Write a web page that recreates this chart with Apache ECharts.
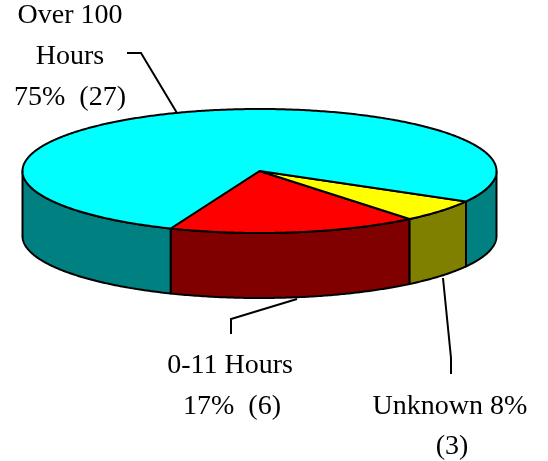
<!DOCTYPE html>
<html>
<head>
<meta charset="utf-8">
<style>html,body{margin:0;padding:0;background:#fff}#main{width:548px;height:461px}</style>
<script src="https://cdn.jsdelivr.net/npm/echarts@6/dist/echarts.min.js"></script>
</head>
<body>
<div id="main"></div>
<script>
// data, counter-clockwise from the left edge of the red slice
var categories = ['0-11 Hours', 'Unknown', 'Over 100 Hours'];
var values = [6, 3, 27];
var topColors = ['#ff0000', '#ffff00', '#00ffff'];
var sideColors = ['#800000', '#808000', '#008080'];

var labelLines = [
    ['0-11 Hours', 230, 366],
    ['17%  (6)', 232, 407],
    ['Unknown 8%', 450, 407],
    ['(3)', 452, 447],
    ['Over 100', 70, 16],
    ['Hours', 70, 57],
    ['75%  (27)', 70, 98]
];
var leaders = [
    [[231, 334], [231, 319], [297, 299]],
    [[451, 374], [451, 358], [443, 278]],
    [[127, 53], [141, 53], [177, 113]]
];

// pie layout
var cx = 259.5, cy = 171, rx = 237, ry = 62, depth = 65;
var startDeg = 115.7;
// the old 3d renderer squeezes angles a bit on the right side
var skew = 8.71, skewPhase = 51.8;

var total = values.reduce(function (a, b) { return a + b; }, 0);

function screenAngle(deg) {
    return deg + skew * Math.sin((deg + skewPhase) * 2 * Math.PI / 180);
}

function rimPoint(deg, dy) {
    var t = screenAngle(deg) * Math.PI / 180;
    return [cx + rx * Math.cos(t), cy + ry * Math.sin(t) + dy];
}

function outline(color, pts) {
    return {
        type: 'polygon',
        shape: { points: pts },
        style: { fill: color, stroke: '#000', lineWidth: 2, lineJoin: 'round' }
    };
}

function renderSlice(params) {
    var i = params.dataIndex;
    var before = values.slice(0, i).reduce(function (a, b) { return a + b; }, 0);
    var from = startDeg - before / total * 360;
    var to = from - values[i] / total * 360;

    var rim = [], runs = [], run = null;
    for (var d = from; d > to - 0.25; d -= 0.5) {
        var deg = Math.max(d, to);
        rim.push(rimPoint(deg, 0));
        // only the front half of the rim shows a wall
        if (Math.sin(screenAngle(deg) * Math.PI / 180) >= 0) {
            if (!run) { run = []; runs.push(run); }
            run.push(deg);
        } else {
            run = null;
        }
    }

    var children = runs.map(function (r) {
        var upper = r.map(function (deg) { return rimPoint(deg, 0); });
        var lower = r.slice().reverse().map(function (deg) { return rimPoint(deg, depth); });
        return outline(sideColors[i], upper.concat(lower));
    });
    children.push(outline(topColors[i], [[cx, cy]].concat(rim)));
    return { type: 'group', children: children };
}

var chart = echarts.init(document.getElementById('main'));
var graphics = labelLines.map(function (l) {
    return {
        type: 'text',
        style: {
            x: l[1], y: l[2], text: l[0], fill: '#000',
            font: '28px "Liberation Serif"', textAlign: 'center', textVerticalAlign: 'middle'
        }
    };
}).concat(leaders.map(function (pts) {
    return {
        type: 'polyline',
        shape: { points: pts },
        style: { stroke: '#000', lineWidth: 2, fill: null }
    };
}));

chart.setOption({
    backgroundColor: '#fff',
    animation: false,
    graphic: graphics,
    series: [{
        type: 'custom',
        coordinateSystem: 'none',
        renderItem: renderSlice,
        data: values.map(function (v, i) { return { name: categories[i], value: v }; })
    }]
});
</script>
</body>
</html>
